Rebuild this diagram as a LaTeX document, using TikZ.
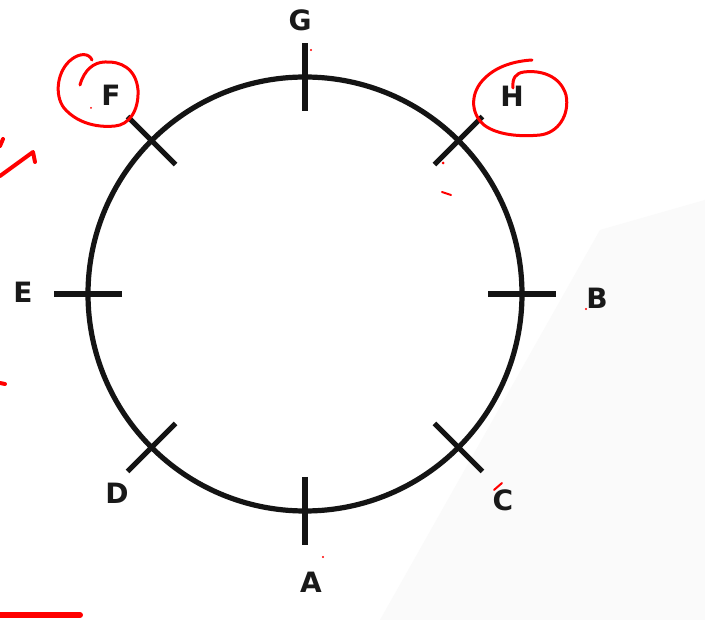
\documentclass[tikz,border=0pt]{standalone}
\usepackage{fontspec}
\setmainfont{DejaVu Sans}
\usetikzlibrary{calc}
\begin{document}
\begin{tikzpicture}[x=1pt,y=-1pt,
  lbl/.style={font=\fontsize{28}{28}\selectfont\bfseries, inner sep=0pt, text=black!90},
  ring/.style={line width=5.2pt, draw=black!92},
  tick/.style={line width=5.2pt, draw=black!92},
  ink/.style={draw=red, line width=3pt, line cap=round, line join=round}]
\useasboundingbox (0,0) rectangle (705,620);
\fill[white] (0,0) rectangle (705,620);
\fill[black!2] (380,620) -- (705,620) -- (705,200) -- (600,230) -- cycle;
\coordinate (O) at (305,294);
\draw[ring] (O) circle[radius=217];
\foreach \a/\n in {0/tB,45/tH,90/tG,135/tF,180/tE,225/tD,270/tA,315/tC}{
  \coordinate (\n1) at ($(O)+(\a:183)$);
  \coordinate (\n2) at ($(O)+(\a:251)$);
  \draw[tick] (\n1) -- (\n2);
}
\node[lbl] (G) at (300,20) {G};
\node[lbl] (F) at (111,95) {F};
\node[lbl] (H) at (512,96) {H};
\node[lbl] (E) at (23,292) {E};
\node[lbl] (B) at (597,298) {B};
\node[lbl] (D) at (117,493) {D};
\node[lbl] (C) at (503,500) {C};
\node[lbl] (A) at (311,582) {A};
% red annotations
\draw[ink] (80,85) .. controls (84,70) and (94,62) .. (105,62)
  .. controls (120,61) and (136,68) .. (138,90)
  .. controls (139,112) and (128,125) .. (115,126)
  .. controls (95,128) and (76,122) .. (64,108)
  .. controls (54,95) and (57,70) .. (72,59)
  .. controls (80,53) and (89,53) .. (92,60);
\draw[ink] (513,88) .. controls (512,78) and (516,73) .. (524,72)
  .. controls (540,70) and (560,75) .. (566,95)
  .. controls (570,115) and (558,133) .. (540,135)
  .. controls (520,137) and (497,135) .. (484,125)
  .. controls (470,113) and (470,92) .. (485,78)
  .. controls (497,66) and (515,61) .. (532,60);
\draw[ink, line width=4pt] (0,176) -- (33,152) -- (35,162);
\draw[ink, line width=4pt] (0,146) -- (3,139);
\draw[ink, line width=4pt] (0,383) -- (5,384);
\draw[ink, line width=6pt] (0,615) -- (80,615);
\draw[ink, line width=2pt] (494,490) -- (502,483);
\draw[ink, line width=2pt] (442,192) -- (451,195);
\fill[red] (443,163) circle[radius=1.5];
\fill[red] (311,50) circle[radius=1.2];
\fill[red] (323,557) circle[radius=1.2];
\fill[red] (586,309) circle[radius=1.2];
\fill[red] (91,108) circle[radius=1];
\end{tikzpicture}
\end{document}
